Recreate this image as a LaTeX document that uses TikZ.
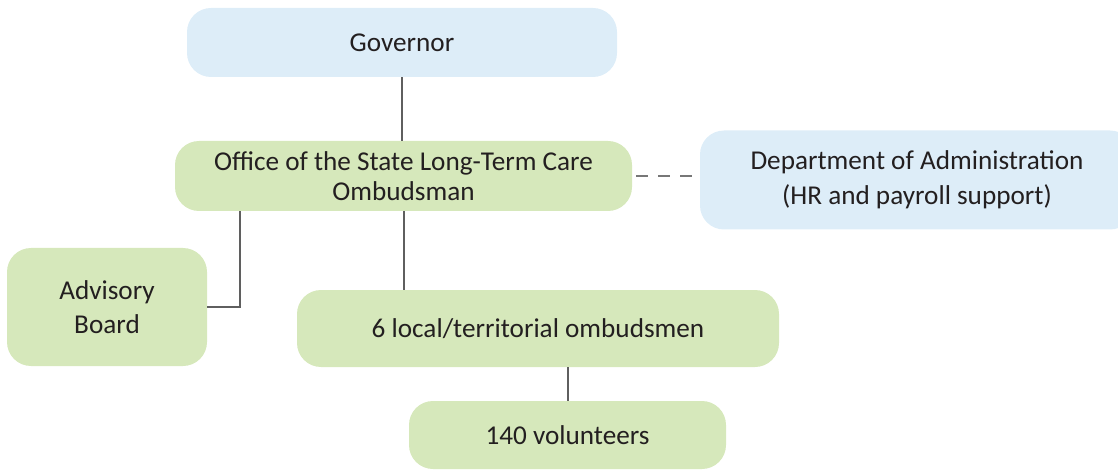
\documentclass[tikz,border=0pt]{standalone}
\usepackage{fontspec}
\setmainfont{Carlito}
\usepackage{xcolor}
\definecolor{cGreen}{HTML}{D6E8BB}
\definecolor{cBlue}{HTML}{DDEDF8}
\definecolor{cLine}{HTML}{5F5F5F}
\definecolor{cText}{HTML}{231F20}
\usetikzlibrary{positioning,calc}
\tikzset{
  node-green/.style={fill=cGreen,rounded corners=12pt,inner sep=0pt,
    align=center,text=cText,font=\fontsize{13.6}{16.8}\selectfont},
  node-blue/.style={fill=cBlue,rounded corners=12pt,inner sep=0pt,
    align=center,text=cText,font=\fontsize{13.6}{17.5}\selectfont},
  link/.style={draw=cLine,line width=1pt},
  link-dashed/.style={draw=cLine!85,line width=1pt,dash pattern=on 6pt off 5pt,
    dash phase=-2pt},
}
\begin{document}
\begin{tikzpicture}[x=0.5pt,y=-0.5pt]
  \useasboundingbox (0,0) rectangle (1118,470);
  \node[node-blue,minimum width=215pt,minimum height=34.5pt]
    (gov) at (402,42.5) {Governor};
  \node[node-green,minimum width=228.5pt,minimum height=35pt,
    font=\fontsize{13.6}{15}\selectfont]
    (office) at (403.5,176) {Office of the State Long-Term Care\\Ombudsman};
  \node[node-blue,minimum width=217pt,minimum height=49.5pt]
    (dept) at (917,180) {Department of Administration\\(HR and payroll support)};
  \node[node-green,minimum width=100pt,minimum height=59pt]
    (adv) at (107,307) {Advisory\\Board};
  \node[node-green,minimum width=241pt,minimum height=38.5pt]
    (local) at (538,328.5) {6 local/territorial ombudsmen};
  \node[node-green,minimum width=158.5pt,minimum height=34pt]
    (vol) at (567.5,435) {140 volunteers};
  % connectors
  \draw[link] (gov.south) -- (gov.south |- office.north);
  \draw[link] (office.south) -- (office.south |- local.north);
  \draw[link] ([xshift=32.5pt]office.south west) |- (adv.east);
  \draw[link] (vol.north |- local.south) -- (vol.north);
  \draw[link-dashed] (office.east) -- (office.east -| dept.west);
\end{tikzpicture}
\end{document}
